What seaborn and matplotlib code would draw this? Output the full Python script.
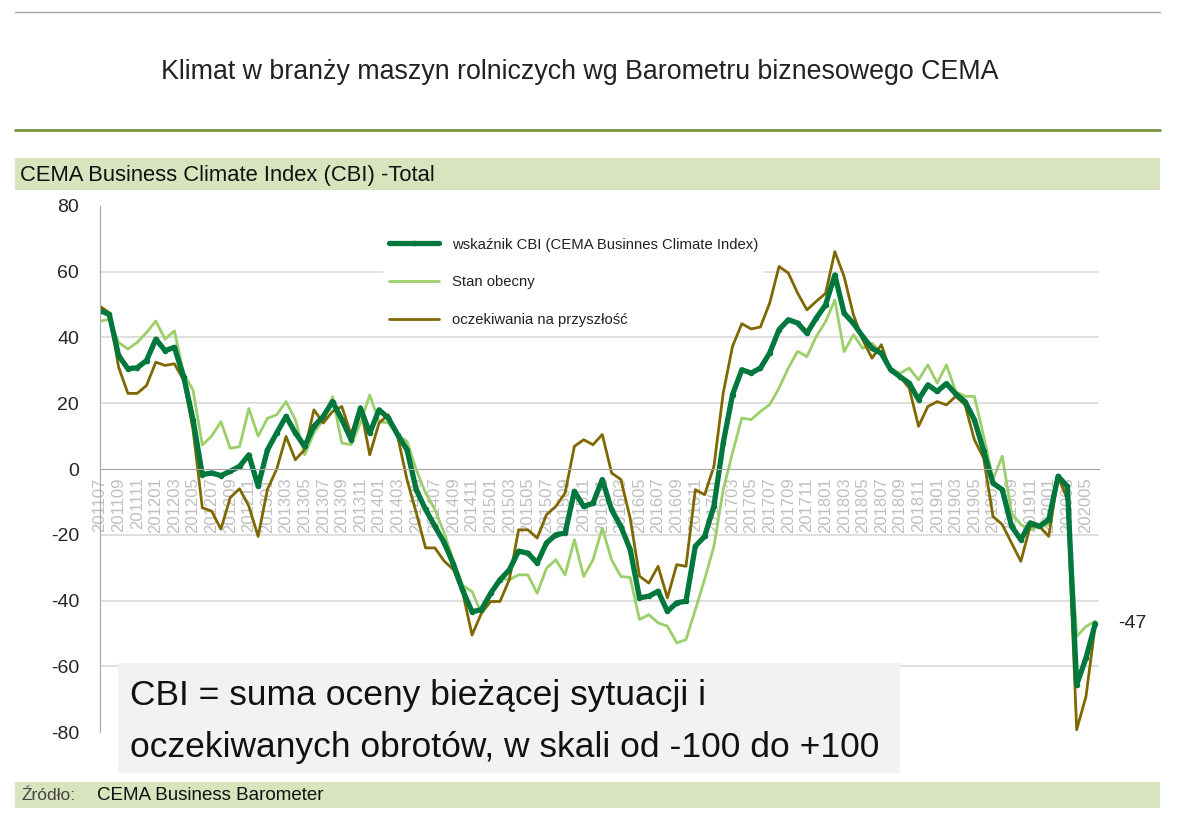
import numpy as np
import pandas as pd
import seaborn as sns
import matplotlib.pyplot as plt
from matplotlib.patches import Rectangle
from matplotlib.lines import Line2D

# miesiace 201107 .. 202006
months = pd.period_range('2011-07', periods=108, freq='M')
month_labels = [p.strftime('%Y%m') for p in months]

cbi = [48.2, 47, 34.5, 30.5, 30.8, 33, 39.5, 36, 37, 28,
       15, -1.7, -1.2, -2, -0.7, 0.8, 4.3, -5.2, 5.8, 11,
       16, 11, 6.9, 13, 16, 20.5, 15, 8.9, 18.5, 10.9,
       18, 15.5, 10.4, 5.9, -6.3, -12.3, -17.4, -22.4, -29, -37,
       -43.4, -42.8, -37.8, -33.7, -30.7, -25, -25.6, -28.6, -22.5, -20,
       -19.5, -6.8, -11.4, -10.4, -3.2, -12.4, -17.5, -24.5, -39.2, -38.7,
       -37.2, -43.3, -40.7, -40.2, -23.5, -20.5, -11.3, 7.9, 22.6, 30.2,
       29.2, 30.7, 35.3, 42.4, 45.4, 44.4, 41.3, 45.9, 49.9, 59,
       47.4, 44.3, 40.3, 36.7, 35.2, 30.2, 28.1, 26.1, 21.1, 25.6,
       23.6, 26, 22.8, 20.5, 15, 5.5, -4.3, -6.3, -17.4, -21.5,
       -16.4, -17.4, -15.4, -2.2, -5.3, -65.6, -57.5, -47]

stan = [45, 45.5, 38.5, 36.5, 38.5, 41.5, 45, 39.5, 42, 29,
        24, 7.3, 10, 14.4, 6.3, 6.8, 18.4, 10, 15.4, 16.5,
        20.5, 15, 4.3, 11, 15, 22, 7.9, 7.4, 14, 22.5,
        14.4, 14, 10.4, 8.4, -0.2, -7.3, -12.3, -19.4, -28, -35.5,
        -37.3, -43.9, -38.3, -33.2, -33.7, -32.2, -32.2, -37.8, -30.2, -27.6,
        -32.2, -21.5, -32.7, -27.6, -18, -27.6, -32.7, -33, -45.8, -44.3,
        -46.8, -47.8, -52.9, -51.9, -42.8, -33.6, -23.5, -6.3, 4.9, 15.5,
        15, 17.5, 19.6, 24.6, 30.7, 35.8, 34.2, 40.3, 44.8, 51.4,
        35.7, 40.8, 36.7, 38.3, 35.2, 30.7, 29.1, 30.7, 27.1, 31.7,
        26.1, 31.7, 23.5, 22.1, 22.1, 10, -3.2, 3.9, -13.4, -16.9,
        -18.5, -17.4, -16.9, -2.2, -8, -50.9, -47.9, -46.3]

oczek = [49.5, 47.5, 31, 23, 23, 25.4, 32.5, 31.5, 32, 27,
         12, -11.8, -12.8, -18.3, -8.7, -6, -11.3, -20.5, -6.2, 0,
         9.9, 2.8, 5.9, 18, 14, 17.5, 19, 10.4, 19, 4.3,
         14, 16.5, 9.9, -3.2, -13.3, -24, -24, -28, -30.6, -37.7,
         -50.5, -43.9, -40.3, -40.3, -33.7, -18.5, -18.5, -21, -13.9, -11.4,
         -7.3, 6.9, 8.9, 7.4, 10.5, -1.2, -3.2, -15, -32.6, -34.7,
         -29.6, -39.2, -29.1, -29.6, -6.3, -7.8, 0.8, 23.1, 37.3, 44.2,
         42.6, 43.2, 50.5, 61.6, 59.6, 53.5, 48.4, 51, 53.4, 66.1,
         58.5, 46.9, 39.3, 33.7, 37.8, 29.7, 28.1, 24.6, 13, 19,
         20.5, 19.5, 22.1, 19.5, 8.9, 3.3, -14.4, -16.9, -22.5, -28.1,
         -17.4, -17.4, -20.5, -2.2, -9.3, -79.3, -69.2, -47.4]

idx = np.arange(len(months))

sns.set_style('white')
FONT = ['Liberation Sans', 'DejaVu Sans']
plt.rcParams['font.family'] = FONT
plt.rcParams['axes.unicode_minus'] = False

C_CBI = '#00773C'
C_STAN = '#9BCF6A'
C_OCZ = '#7F6800'
GRAY = '#A6A6A6'

fig = plt.figure(figsize=(11.8, 8.3), dpi=100)
W, H = 1180, 830
def fx(px): return px / W
def fy(py): return 1 - py / H

# naglowek
fig.add_artist(Line2D([fx(15), fx(1160)], [fy(12), fy(12)], color=GRAY, lw=1))
fig.text(fx(580), fy(72), 'Klimat w branży maszyn rolniczych wg Barometru biznesowego CEMA',
         ha='center', va='center', fontsize=19.3, color='#222222')
fig.add_artist(Line2D([fx(15), fx(1160)], [fy(130), fy(130)], color='#77933C', lw=2))
fig.add_artist(Rectangle((fx(15), fy(190)), fx(1160) - fx(15), (190 - 158) / H,
                         transform=fig.transFigure, color='#D7E4BD', lw=0))
fig.text(fx(20), fy(175), 'CEMA Business Climate Index (CBI) -Total',
         ha='left', va='center', fontsize=15.8, color='#111111')

ax = fig.add_axes([fx(100), fy(732), (1099 - 100) / W, (732 - 206) / H])

for v in range(-60, 61, 20):
    if v != 0:
        ax.axhline(v, color='#D9D9D9', lw=1.2, zorder=0)

sns.lineplot(x=idx, y=stan, ax=ax, color=C_STAN, lw=2, label='Stan obecny')
sns.lineplot(x=idx, y=oczek, ax=ax, color=C_OCZ, lw=2, label='oczekiwania na przyszłość')
sns.lineplot(x=idx, y=cbi, ax=ax, color=C_CBI, lw=3.8, marker='o', markersize=4,
             markeredgewidth=0, label='wskaźnik CBI (CEMA Businnes Climate Index)')

ax.set_xlim(0, 107.4)
ax.set_ylim(-80, 80)
ax.set_yticks(range(-80, 81, 20))
ax.set_xticks(idx[::2])
ax.set_xticklabels(month_labels[::2])
ax.set_xticks(idx, minor=True)
ax.tick_params(axis='x', which='both', direction='out', length=5, color=GRAY, pad=1)
ax.tick_params(axis='x', which='major', labelrotation=90, labelcolor='#BFBFBF',
               labelsize=12)
ax.tick_params(axis='y', direction='out', length=6, color=GRAY, labelsize=14, pad=9)
ax.spines['bottom'].set_position(('data', 0))
ax.spines['bottom'].set_color(GRAY)
ax.spines['left'].set_color(GRAY)
ax.spines['top'].set_visible(False)
ax.spines['right'].set_visible(False)
ax.set_xlabel('')
ax.set_ylabel('')

handles, labels = ax.get_legend_handles_labels()
order = [2, 0, 1]
leg = ax.legend([handles[i] for i in order], [labels[i] for i in order],
                loc='upper left', bbox_to_anchor=(fx(376), fy(225)),
                bbox_transform=fig.transFigure, frameon=True, facecolor='white',
                edgecolor='white', framealpha=1, fontsize=10.7, labelspacing=1.6,
                handlelength=3.4, handletextpad=0.85, borderpad=0.35)
leg.set_zorder(1)  # tlo legendy zaslania siatke, ale nie linie
for t in leg.get_texts():
    t.set_color('#222222')

ax.text(idx[-1] + 2.5, cbi[-1], f'{cbi[-1]:.0f}', ha='left', va='center', fontsize=14)

# ramka z opisem
fig.add_artist(Rectangle((fx(118), fy(773)), fx(900) - fx(118), (773 - 663) / H,
                         transform=fig.transFigure, color='#F2F2F2', lw=0))
fig.text(fx(130), fy(695), 'CBI = suma oceny bieżącej sytuacji i', ha='left', va='center',
         fontsize=25.5, color='#111111')
fig.text(fx(130), fy(748), 'oczekiwanych obrotów, w skali od -100 do +100', ha='left',
         va='center', fontsize=25.5, color='#111111')

# stopka
fig.add_artist(Rectangle((fx(15), fy(808)), fx(1160) - fx(15), (808 - 782) / H,
                         transform=fig.transFigure, color='#D7E4BD', lw=0))
fig.text(fx(22), fy(795), 'Źródło:', ha='left', va='center', fontsize=12.5,
         color='#444444')
fig.text(fx(97), fy(795), 'CEMA Business Barometer', ha='left', va='center', fontsize=13.5,
         color='#111111')

fig.savefig('out.png', dpi=100)
